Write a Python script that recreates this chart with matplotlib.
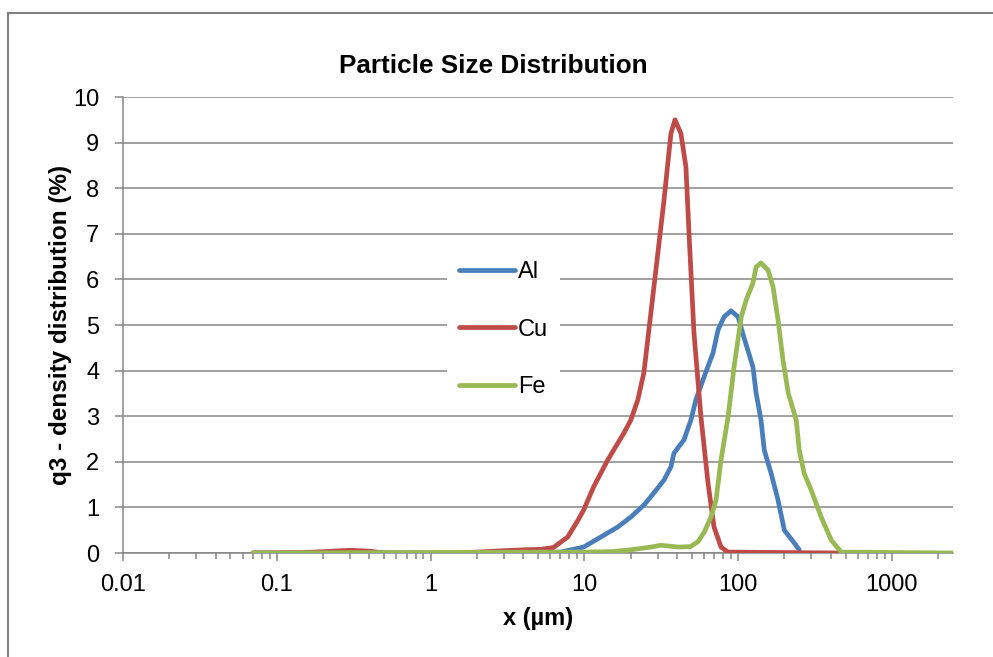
import matplotlib
matplotlib.use("Agg")
import matplotlib.pyplot as plt
from matplotlib.ticker import FixedLocator, FixedFormatter, LogLocator, NullFormatter
from matplotlib.lines import Line2D

plt.rcParams['font.family'] = ['Liberation Sans', 'DejaVu Sans']

# particle sizes (um) and q3 density (%)
al_x = [0.07, 3, 5, 7.0, 9.9, 12.8, 16.5, 20.1, 24.4, 28.4, 33.0, 36.6, 38.3, 44.5,
        49.4, 53.2, 60.1, 68.8, 74.1, 81.1, 90.0, 100, 109, 125, 131, 141, 148, 164,
        182, 200, 232, 250]
al_y = [0, 0, 0.01, 0.02, 0.13, 0.35, 0.57, 0.79, 1.05, 1.32, 1.6, 1.89, 2.19, 2.48,
        2.92, 3.36, 3.86, 4.39, 4.89, 5.18, 5.31, 5.18, 4.74, 4.08, 3.51, 2.92, 2.26, 1.75,
        1.16, 0.5, 0.22, 0.07]

cu_x = [0.07, 0.15, 0.2, 0.3, 0.4, 0.5, 1.5, 2, 3, 4, 5.2, 6.3, 7.8, 9.1, 9.9, 11.5,
        14.2, 18.1, 20.1, 22.3, 24.4, 27.1, 30.1, 33.0, 36.6, 38.9, 42.5, 45.8, 48.0,
        51.7, 57.4, 63.8, 69.8, 77.5, 86.1, 470]
cu_y = [0, 0.01, 0.03, 0.06, 0.04, 0, 0, 0.02, 0.05, 0.07, 0.08, 0.12, 0.35, 0.72, 0.94,
        1.45, 2.04, 2.63, 2.92, 3.36, 3.95, 5.26, 6.58, 7.74, 9.2, 9.5, 9.2, 8.47, 7.0,
        4.82, 2.98, 1.53, 0.57, 0.13, 0.02, 0]

fe_x = [0.07, 10, 15, 20.1, 27.1, 31.5, 41, 49, 55, 60.1, 66.7, 71.9, 77.5, 86.1, 94.2,
        105, 113, 125, 131, 141, 157, 169, 182, 196, 212, 239, 250, 269, 299, 347, 404,
        469, 2500]
fe_y = [0, 0.02, 0.03, 0.07, 0.13, 0.17, 0.13, 0.14, 0.25, 0.45, 0.79, 1.16, 2.04, 2.98,
        4.08, 5.18, 5.55, 5.92, 6.27, 6.36, 6.2, 5.83, 5.11, 4.23, 3.51, 2.92, 2.26, 1.75,
        1.38, 0.79, 0.28, 0.02, 0]

x_ticks = [0.01, 0.1, 1, 10, 100, 1000]
x_labels = ['0.01', '0.1', '1', '10', '100', '1000']
y_ticks = list(range(0, 11))

blue = '#4A7EBB'
red = '#BE4B48'
green = '#98B954'
grey = '#868686'

fig = plt.figure(figsize=(9.93, 6.57), dpi=100)
ax = fig.add_axes([123/993, 104/657, 830/993, 456/657])

line_kw = dict(lw=3.4, solid_capstyle='round', solid_joinstyle='round')
ax.plot(al_x, al_y, color=blue, label='Al', **line_kw)
ax.plot(cu_x, cu_y, color=red, label='Cu', **line_kw)
ax.plot(fe_x, fe_y, color=green, label='Fe', **line_kw)

ax.set_xscale('log')
ax.set_xlim(0.01, 2500)
ax.set_ylim(0, 10)
ax.xaxis.set_major_locator(FixedLocator(x_ticks))
ax.xaxis.set_major_formatter(FixedFormatter(x_labels))
ax.xaxis.set_minor_locator(LogLocator(base=10, subs=range(2, 10), numticks=20))
ax.xaxis.set_minor_formatter(NullFormatter())
ax.set_yticks(y_ticks)

ax.grid(axis='y', color=grey, lw=1.1)
ax.set_axisbelow(True)
for s in ['top', 'right']:
    ax.spines[s].set_visible(False)
for s in ['left', 'bottom']:
    ax.spines[s].set_color(grey)
    ax.spines[s].set_linewidth(1.1)
    ax.spines[s].set_zorder(0.5)

ax.tick_params(axis='both', which='major', direction='out', length=6, width=1.1,
               color=grey, labelsize=17, labelcolor='black')
ax.tick_params(axis='x', which='major', pad=9)
ax.tick_params(axis='y', which='major', pad=11)
ax.tick_params(axis='x', which='minor', direction='out', length=4, width=1.1, color=grey)

ax.set_xlabel('x (µm)', fontsize=17, fontweight='bold', labelpad=8)
ax.set_ylabel('q3 - density distribution (%)', fontsize=17.5, fontweight='bold', labelpad=1)
fig.text(493/993, 1 - 66/657, 'Particle Size Distribution', fontsize=18.8,
         fontweight='bold', ha='center', va='center')

leg = ax.legend(loc='center left', bbox_to_anchor=(0.39, 0.49), fontsize=17,
                frameon=True, handlelength=2.4, handletextpad=0.12, labelspacing=1.5,
                borderpad=0.5, borderaxespad=0, fancybox=False)
leg.get_frame().set_facecolor('white')
leg.get_frame().set_edgecolor('none')
leg.get_frame().set_alpha(1)

# outer chart border (top and left visible)
fig.add_artist(Line2D([8/993, 8/993], [0, 1 - 13/657], transform=fig.transFigure,
                      color='#808080', lw=1.5))
fig.add_artist(Line2D([8/993, 1], [1 - 13/657, 1 - 13/657], transform=fig.transFigure,
                      color='#808080', lw=1.5))

fig.savefig('out.png', dpi=100)
